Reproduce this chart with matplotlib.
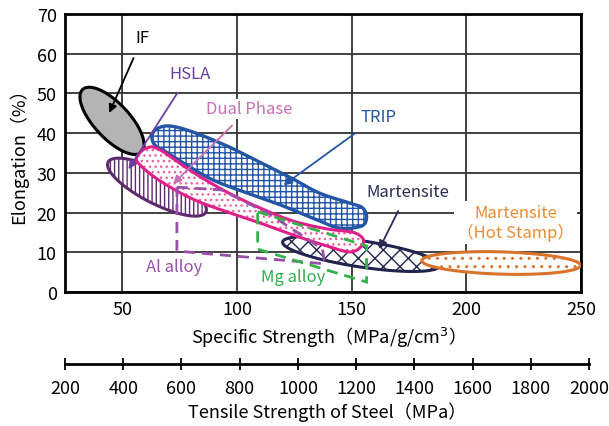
import numpy as np
import matplotlib
matplotlib.use("Agg")
import matplotlib.pyplot as plt
from matplotlib.patches import Polygon

plt.rcParams['font.family'] = ['Noto Sans CJK JP', 'DejaVu Sans']
plt.rcParams['hatch.linewidth'] = 1.0

## Datos
x_ticks = [50, 100, 150, 200, 250]
y_ticks = [0, 10, 20, 30, 40, 50, 60, 70]
steel_ticks = list(range(200, 2001, 200))

# Elipses: centro (x, y), semieje mayor (dx, dy), relacion menor/mayor
if_ell = (45.5, 43.1, 12.8, -7.9, 0.41)
hsla_ell = (65.1, 26.4, 21.3, -6.3, 0.30)
mart_ell = (154.1, 9.6, 34.2, -3.0, 0.165)
hot_ell = (215.2, 7.3, 34.6, -0.6, 0.14)

# Contornos (Specific strength, Elongation)
trip_pts = [(62.9, 39.3), (65.1, 41.1), (70.7, 41.8), (80.7, 40.3), (95.5, 36.8),
            (109.9, 32.7), (124.3, 28.5), (136.0, 24.9), (149.1, 22.4), (154.7, 21.2),
            (156.5, 18.9), (154.3, 16.6), (144.7, 16.1), (136.0, 17.9), (119.9, 21.7),
            (105.5, 24.7), (90.3, 28.0), (79.4, 31.5), (69.0, 35.3), (64.2, 37.0)]
dp_pts = [(56.3, 34.0), (60.7, 36.3), (66.4, 35.8), (80.7, 30.2), (95.5, 25.2),
          (109.9, 21.2), (124.3, 17.9), (139.1, 15.9), (151.3, 14.9), (155.2, 12.6),
          (150.0, 10.1), (139.1, 11.6), (124.3, 14.4), (109.9, 17.4), (95.5, 20.2),
          (80.7, 23.4), (66.4, 28.0), (57.7, 32.0)]
al_pts = [(73.8, 26.4), (93.3, 25.7), (114.2, 19.6), (137.3, 10.8), (138.2, 7.1), (73.8, 10.3)]
mg_pts = [(109.0, 20.2), (156.5, 11.6), (156.5, 2.5), (109.0, 10.8)]

W, H = 609, 427
fig = plt.figure(figsize=(W / 100, H / 100), dpi=100)
L, R, T, B = 65, 581, 15, 293
ax = fig.add_axes([L / W, 1 - B / H, (R - L) / W, (B - T) / H])
ax.set_xlim(25, 250)
ax.set_ylim(0, 70)
sx = (R - L) / 225
sy = (B - T) / 70


def ellipse(c):
    cx, cy, dx, dy, ratio = c
    t = np.linspace(0, 2 * np.pi, 200)
    ux, uy = dx * sx, dy * sy
    vx, vy = -uy * ratio, ux * ratio
    px = np.cos(t) * ux + np.sin(t) * vx
    py = np.cos(t) * uy + np.sin(t) * vy
    return np.column_stack([cx + px / sx, cy + py / sy])


def smooth(pts, k=16):
    p = np.asarray(pts, float)
    n = len(p)
    out = []
    t = np.linspace(0, 1, k, endpoint=False)[:, None]
    for i in range(n):
        p0, p1, p2, p3 = p[i - 1], p[i], p[(i + 1) % n], p[(i + 2) % n]
        out.append(0.5 * (2 * p1 + (-p0 + p2) * t + (2 * p0 - 5 * p1 + 4 * p2 - p3) * t ** 2
                          + (-p0 + 3 * p1 - 3 * p2 + p3) * t ** 3))
    return np.vstack(out)


def region(pts, edge, hatch=None, face='white', hatch_col=None, lw=2.2, z=3):
    # relleno + trama, luego el borde
    ax.add_patch(Polygon(pts, closed=True, facecolor=face, edgecolor=hatch_col or edge,
                         lw=0, hatch=hatch, zorder=z))
    ax.add_patch(Polygon(pts, closed=True, fill=False, edgecolor=edge, lw=lw, zorder=z))


region(ellipse(hsla_ell), '#5e2a6e', '||||')
region(ellipse(if_ell), 'black', face='#b4b4b4', z=4)
region(ellipse(mart_ell), '#23234f', 'xx')
region(ellipse(hot_ell), '#d9722a', '..', z=4)
region(smooth(trip_pts), '#2255a5', '+++', lw=2.4, z=4)
region(smooth(dp_pts), '#e0208a', '...', hatch_col='#f0609a', z=5)
ax.add_patch(Polygon(al_pts, closed=True, fill=False, edgecolor='#9a4fa8', lw=2.0,
                     linestyle=(0, (4, 2.5)), zorder=6))
ax.add_patch(Polygon(mg_pts, closed=True, fill=False, edgecolor='#33b24a', lw=2.0,
                     linestyle=(0, (4, 2.5)), zorder=6))

fs = 12
white = dict(facecolor='white', edgecolor='none', pad=1)


def label(text, xy, xytext, color, **kw):
    ax.annotate(text, xy=xy, xytext=xytext, color=color, fontsize=fs, ha='center', va='center',
                zorder=7, arrowprops=dict(arrowstyle='-|>', color=color, lw=1.3,
                                          mutation_scale=12, shrinkA=7, shrinkB=0), **kw)


label('IF', (44.3, 45.1), (58.8, 64.0), 'black')
label('HSLA', (52.7, 30.9), (79.3, 54.9), '#6b3fa0')
label('Dual Phase', (72.1, 27.2), (105.2, 46.1), '#c86fb5', bbox=white)
label('TRIP', (120.3, 26.9), (161.8, 44.3), '#2456a4')
label('Martensite', (162.0, 10.8), (174.6, 25.4), '#2a2a55')
ax.text(221.5, 17.5, 'Martensite\n（Hot Stamp）', color='#f08a2c', fontsize=fs, ha='center',
        va='center', linespacing=1.15, bbox=dict(facecolor='white', edgecolor='none', pad=2), zorder=7)
ax.text(72.8, 6.5, 'Al alloy', color='#9a4fa8', fontsize=fs, ha='center', va='center', zorder=7)
ax.text(124.3, 3.8, 'Mg alloy', color='#2fb04a', fontsize=fs, ha='center', va='center', zorder=7)

ax.set_xticks(x_ticks)
ax.set_yticks(y_ticks)
ax.tick_params(length=0, labelsize=13, pad=6)
ax.grid(True, color='#333333', lw=1.3)
ax.set_axisbelow(True)
for s in ax.spines.values():
    s.set_linewidth(2)

fig.text(0.5 * (L + R) / W, 1 - 338 / H, 'Specific Strength（MPa/g/cm$^{3}$）', ha='center',
         va='center', fontsize=13)
fig.text(18 / W, 1 - 152 / H, 'Elongation（%）', rotation=90, ha='center', va='center',
         fontsize=13)

# Escala de resistencia a traccion del acero
ax2 = fig.add_axes([65 / W, 1 - 365 / H, (589 - 65) / W, 0.0001])
ax2.set_xlim(200, 2000)
ax2.set_xticks(steel_ticks)
ax2.set_yticks([])
for k in ['left', 'right', 'top']:
    ax2.spines[k].set_visible(False)
ax2.spines['bottom'].set_linewidth(2)
ax2.tick_params(axis='x', direction='inout', length=9, width=1.3, labelsize=13, pad=6)
fig.text(0.5 * (65 + 589) / W, 1 - 412 / H, 'Tensile Strength of Steel（MPa）', ha='center',
         va='center', fontsize=13)

fig.savefig('out.png', dpi=100)
